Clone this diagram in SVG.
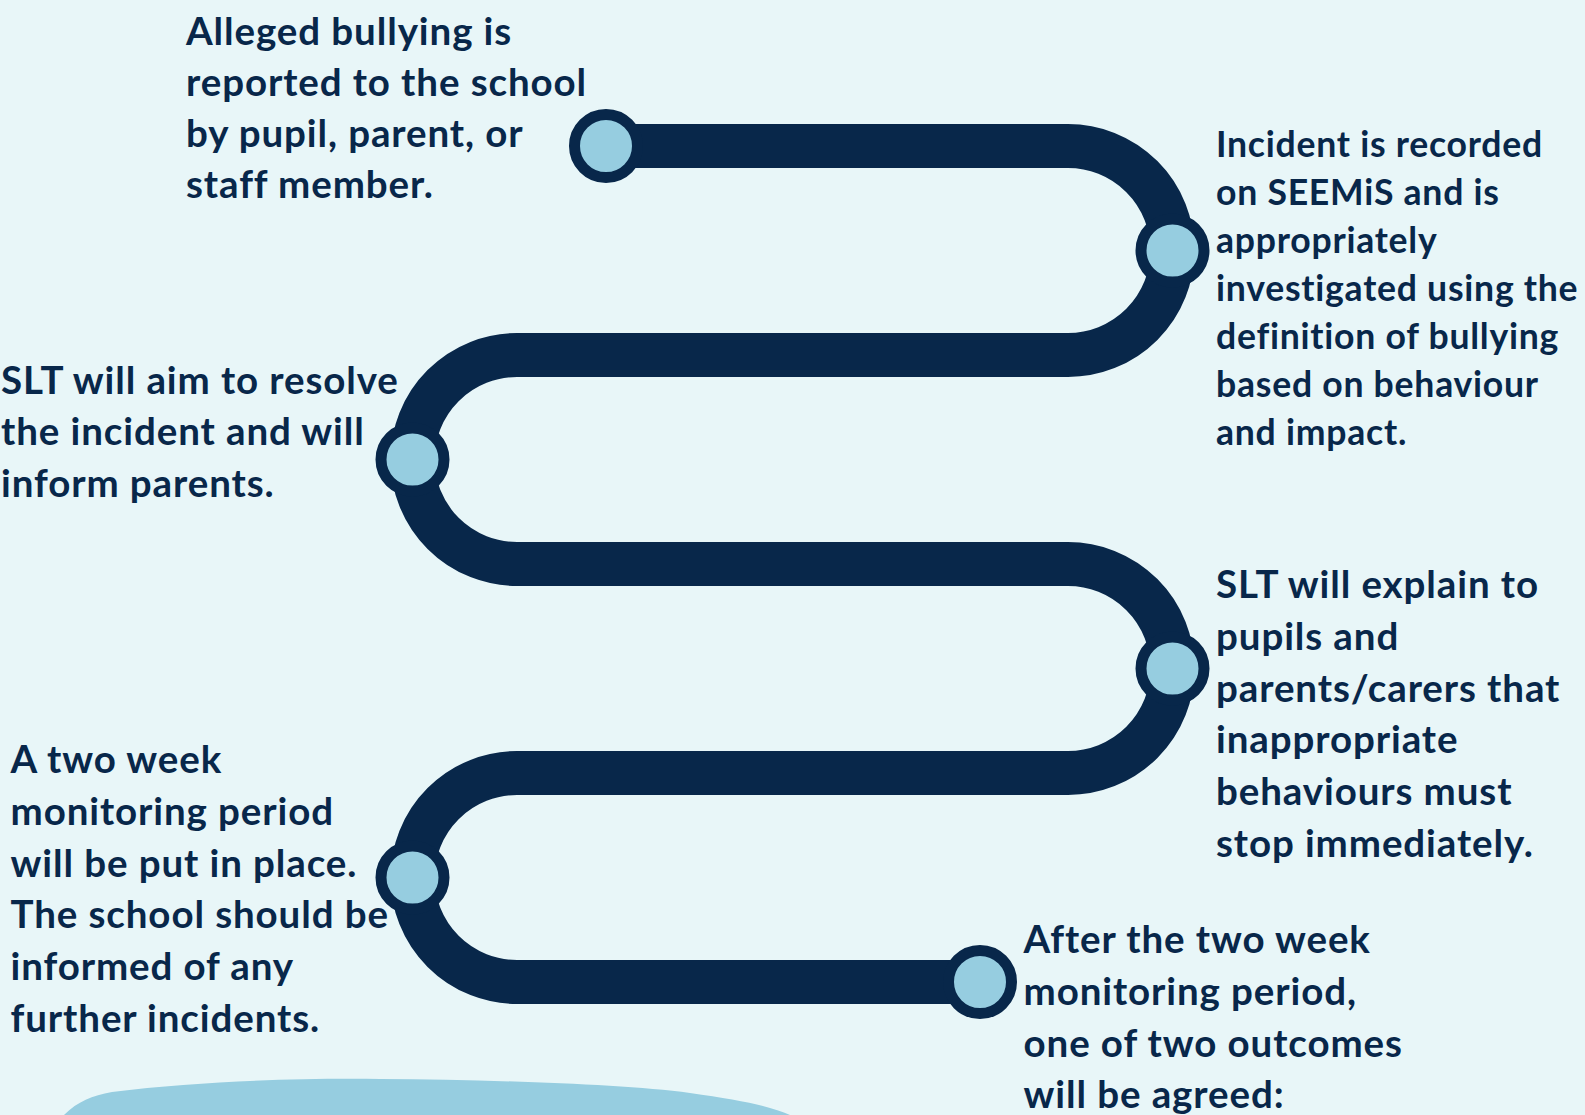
<svg xmlns="http://www.w3.org/2000/svg" width="1585" height="1115" viewBox="0 0 1585 1115">
<style>
.t{font-family:Lato,"DejaVu Sans",sans-serif;font-weight:700;fill:#08274A;font-size:38.5px;letter-spacing:0.9px}
.s{font-size:35.6px;letter-spacing:0.75px}
.node{fill:#96CDE0;stroke:#08274A;stroke-width:11}
.road{fill:none;stroke:#08274A;stroke-width:44;stroke-linecap:butt}
</style>
<rect width="1585" height="1115" fill="#E8F6F8"/>
<path d="M64 1115 C78 1101 92 1096 112 1092 C200 1081 300 1078 380 1079 C500 1080 620 1084 690 1093 C740 1100 770 1106 790 1115 Z" fill="#96CDE0"/>
<g id="connectors">
<path class="road" d="M606 146 H1068 A104.5 104.5 0 0 1 1068 355 H517 A104.5 104.5 0 0 0 517 564 H1068 A104.5 104.5 0 0 1 1068 773 H517 A104.5 104.5 0 0 0 517 982 H980"/>
</g>
<g id="step1">
<circle class="node" cx="606" cy="146" r="31.5"/>
<text class="t"><tspan x="186" y="44.5">Alleged bullying is</tspan><tspan x="186" y="95.7">reported to the school</tspan><tspan x="186" y="146.9">by pupil, parent, or</tspan><tspan x="186" y="198.1">staff member.</tspan></text>
</g>
<g id="step2">
<circle class="node" cx="1172.5" cy="250.5" r="31.5"/>
<text class="t s"><tspan x="1216" y="157.3">Incident is recorded</tspan><tspan x="1216" y="205.2">on SEEMiS and is</tspan><tspan x="1216" y="253.1">appropriately</tspan><tspan x="1216" y="301">investigated using the</tspan><tspan x="1216" y="348.9">definition of bullying</tspan><tspan x="1216" y="396.8">based on behaviour</tspan><tspan x="1216" y="444.7">and impact.</tspan></text>
</g>
<g id="step3">
<circle class="node" cx="412.5" cy="459.5" r="31.5"/>
<text class="t"><tspan x="1" y="394">SLT will aim to resolve</tspan><tspan x="1" y="445.4">the incident and will</tspan><tspan x="1" y="496.8">inform parents.</tspan></text>
</g>
<g id="step4">
<circle class="node" cx="1172.5" cy="668.5" r="31.5"/>
<text class="t"><tspan x="1216" y="598.3">SLT will explain to</tspan><tspan x="1216" y="650">pupils and</tspan><tspan x="1216" y="701.7">parents/carers that</tspan><tspan x="1216" y="753.4">inappropriate</tspan><tspan x="1216" y="805.1">behaviours must</tspan><tspan x="1216" y="856.8">stop immediately.</tspan></text>
</g>
<g id="step5">
<circle class="node" cx="412.5" cy="877.5" r="31.5"/>
<text class="t"><tspan x="10.5" y="773.3">A two week</tspan><tspan x="10.5" y="825">monitoring period</tspan><tspan x="10.5" y="876.7">will be put in place.</tspan><tspan x="10.5" y="928.4">The school should be</tspan><tspan x="10.5" y="980.1">informed of any</tspan><tspan x="10.5" y="1031.8">further incidents.</tspan></text>
</g>
<g id="step6">
<circle class="node" cx="980" cy="982" r="31.5"/>
<text class="t"><tspan x="1023.5" y="953.3">After the two week</tspan><tspan x="1023.5" y="1004.9">monitoring period,</tspan><tspan x="1023.5" y="1056.5">one of two outcomes</tspan><tspan x="1023.5" y="1108.1">will be agreed:</tspan></text>
</g>
</svg>
